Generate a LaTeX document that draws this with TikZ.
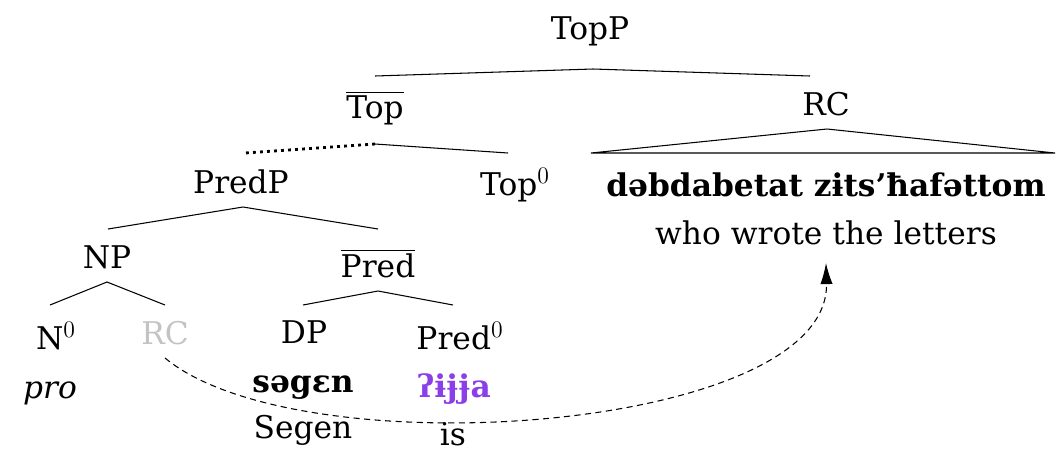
\RequirePackage{fix-cm}
\documentclass[tikz,border=0pt]{standalone}
\usepackage{fontspec}
\setmainfont{DejaVu Serif}
\DeclareMathSizes{17.8}{17.8}{13.5}{11}
\usetikzlibrary{arrows.meta}
\definecolor{rcgray}{RGB}{195,195,195}
\definecolor{ipapurple}{RGB}{138,63,232}
\begin{document}
\begin{tikzpicture}[x=0.02cm,y=-0.02cm,
  lab/.style={anchor=base,inner sep=0pt,font=\fontsize{17.8}{20}\selectfont},
  branch/.style={line width=0.6pt},
  dotbranch/.style={line width=1.6pt,dash pattern=on 1.6pt off 2.4pt},
  movearrow/.style={line width=0.6pt,dash pattern=on 3.5pt off 2.5pt,-{Latex[length=12pt,width=7pt]}}]
\useasboundingbox (0,0) rectangle (1056,451);
% labels
\node[lab] (TopP) at (590,39) {TopP};
\node[lab] (Topbar) at (375,118) {$\overline{\mbox{Top}}$};
\node[lab] (RC) at (826,115) {RC};
\node[lab] (PredP) at (241,193) {PredP};
\node[lab] (Top0) at (515,195) {Top$^0$};
\node[lab] (rcipa) at (826,196) {\textbf{dəbdabetat zɨts’ħafəttom}};
\node[lab] (rcgloss) at (826,244) {who wrote the letters};
\node[lab] (NP) at (107,268) {NP};
\node[lab] (Predbar) at (378,277) {$\overline{\mbox{Pred}}$};
\node[lab] (N0) at (56,349) {N$^0$};
\node[lab,text=rcgray] (RCg) at (165,344) {RC};
\node[lab] (DP) at (304,343) {DP};
\node[lab] (Pred0) at (460,349) {Pred$^0$};
\node[lab] (pro) at (50,398) {\textit{pro}};
\node[lab] (segen) at (303,392) {\textbf{səgɛn}};
\node[lab,text=ipapurple] (ijja) at (454,397) {\textbf{ʔɨɉɉa}};
\node[lab] (Segen) at (303,438) {Segen};
\node[lab] (is) at (453,445) {is};
% branch points
\coordinate (TopP-b) at (593,69);
\coordinate (Topbar-t) at (375,76);
\coordinate (RC-t) at (810,76);
\coordinate (Topbar-b) at (375,144);
\coordinate (PredP-t) at (245,153);
\coordinate (Top0-t) at (508,153);
\coordinate (RC-b) at (827,129);
\coordinate (tri-l) at (591,153);
\coordinate (tri-r) at (1055,153);
\coordinate (PredP-b) at (243,207);
\coordinate (NP-t) at (108,229);
\coordinate (Predbar-t) at (378,229);
\coordinate (NP-b) at (107,282);
\coordinate (N0-t) at (50,305);
\coordinate (RCg-t) at (165,305);
\coordinate (Predbar-b) at (378,291);
\coordinate (DP-t) at (303,305);
\coordinate (Pred0-t) at (453,305);
\coordinate (RCg-b) at (165,358);
\coordinate (rcgloss-b) at (826,263);
% branches
\draw[branch] (Topbar-t) -- (TopP-b) -- (RC-t);
\draw[dotbranch] (Topbar-b) -- (PredP-t);
\draw[branch] (Topbar-b) -- (Top0-t);
\draw[branch] (tri-l) -- (RC-b) -- (tri-r) -- cycle;
\draw[branch] (NP-t) -- (PredP-b) -- (Predbar-t);
\draw[branch] (N0-t) -- (NP-b) -- (RCg-t);
\draw[branch] (DP-t) -- (Predbar-b) -- (Pred0-t);
% movement arrow
\draw[movearrow] (RCg-b) .. controls (300,470) and (830,432) .. (rcgloss-b);
\end{tikzpicture}
\end{document}
